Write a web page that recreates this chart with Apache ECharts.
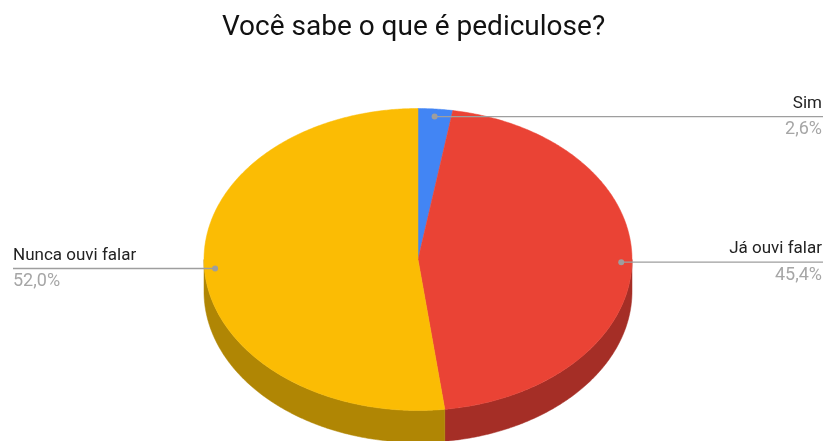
<!DOCTYPE html>
<html>
<head>
<meta charset="utf-8">
<script src="https://cdn.jsdelivr.net/npm/echarts@6/dist/echarts.min.js"></script>
<style>
  html, body { margin: 0; padding: 0; background: #fff; }
  #chart { width: 827px; height: 441px; }
</style>
</head>
<body>
<div id="chart"></div>
<script>
// Chart data
const labels = ['Sim', 'Já ouvi falar', 'Nunca ouvi falar'];
const values = [2.6, 45.4, 52.0];
const colors = ['#4285f4', '#ea4335', '#fbbc04'];
const sideColors = ['#2f5fae', '#a52e26', '#b08604'];

const chart = echarts.init(document.getElementById('chart'));

// Pie geometry (ellipse seen in perspective)
const cx = 418, cy = 259.5, rx = 214, ry = 151, depth = 32;
const total = values.reduce((a, b) => a + b, 0);

function pt(deg, k) {
    const a = deg * Math.PI / 180;
    return [cx + rx * k * Math.sin(a), cy - ry * k * Math.cos(a)];
}

function arc(from, to, k, dy) {
    const pts = [];
    const n = Math.max(2, Math.ceil((to - from) / 0.5));
    for (let j = 0; j <= n; j++) {
        const p = pt(from + (to - from) * j / n, k);
        pts.push([p[0], p[1] + dy]);
    }
    return pts;
}

function renderSlice(params, api) {
    const i = params.dataIndex;
    const v = api.value(0);
    let before = 0;
    for (let j = 0; j < i; j++) before += values[j];
    const start = before / total * 360;
    const end = start + v / total * 360;
    const children = [];

    // side wall, only the front half is visible
    const s = Math.max(start, 90), e = Math.min(end, 270);
    if (s < e) {
        const top = arc(s, e, 1, 0);
        const bottom = arc(s, e, 1, depth).reverse();
        children.push({
            type: 'polygon',
            z2: 1,
            shape: { points: top.concat(bottom) },
            style: { fill: sideColors[i], stroke: sideColors[i], lineWidth: 0.5 }
        });
    }

    // top face
    children.push({
        type: 'polygon',
        z2: 10,
        shape: { points: [[cx, cy]].concat(arc(start, end, 1, 0)) },
        style: { fill: colors[i], stroke: colors[i], lineWidth: 0.5 }
    });

    // leader line and labels
    const mid = (start + end) / 2;
    const dot = pt(mid, 0.95);
    const right = Math.sin(mid * Math.PI / 180) >= 0;
    const edgeX = right ? 823 : 13;
    children.push({
        type: 'line',
        z2: 20,
        shape: { x1: dot[0], y1: dot[1], x2: edgeX, y2: dot[1] },
        style: { stroke: '#9e9e9e', lineWidth: 1.3 }
    });
    children.push({
        type: 'circle',
        z2: 21,
        shape: { cx: dot[0], cy: dot[1], r: 3 },
        style: { fill: '#9e9e9e' }
    });
    const align = right ? 'right' : 'left';
    const tx = right ? 822 : 13;
    children.push({
        type: 'text',
        z2: 22,
        style: {
            x: tx, y: dot[1] - 13,
            text: labels[i],
            align: align, verticalAlign: 'middle',
            fontFamily: 'Roboto', fontSize: 17, fill: '#222222'
        }
    });
    children.push({
        type: 'text',
        z2: 22,
        style: {
            x: tx, y: dot[1] + 13,
            text: (v / total * 100).toFixed(1).replace('.', ',') + '%',
            align: align, verticalAlign: 'middle',
            fontFamily: 'Roboto', fontSize: 18, fill: '#a6a6a6'
        }
    });

    return { type: 'group', children: children };
}

const option = {
    animation: false,
    backgroundColor: '#ffffff',
    title: {
        text: 'Você sabe o que é pediculose?',
        left: 'center',
        top: 9,
        textStyle: {
            fontFamily: 'Roboto',
            fontSize: 28,
            fontWeight: 'normal',
            color: '#111111'
        }
    },
    series: [{
        type: 'custom',
        coordinateSystem: 'none',
        renderItem: renderSlice,
        data: values.map(v => [v])
    }]
};

chart.setOption(option);
</script>
</body>
</html>
